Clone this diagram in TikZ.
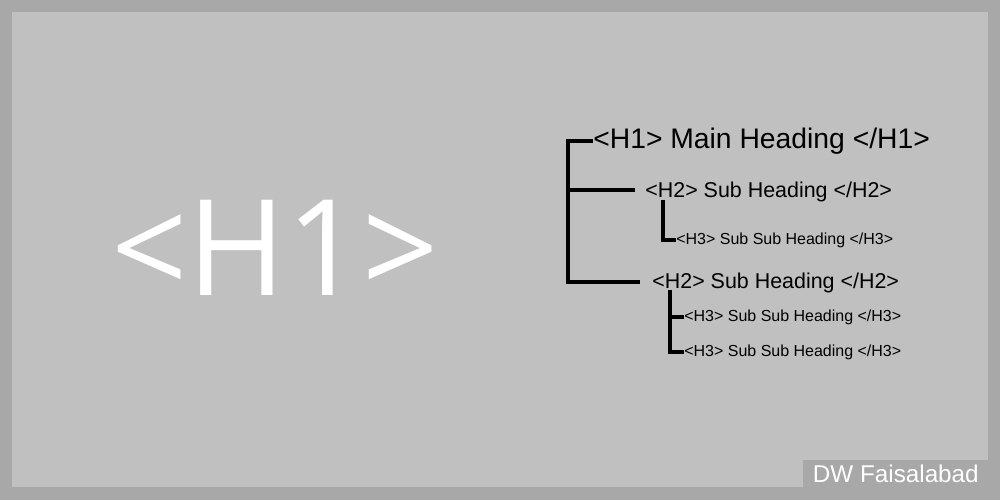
\documentclass[tikz,border=0pt]{standalone}
\usepackage{fontspec}
\setmainfont{Liberation Sans}
\newfontfamily\bigf{Open Sans}
\begin{document}
\begin{tikzpicture}[x=0.02cm,y=-0.02cm,
  ln/.style={line width=2.4pt,line cap=butt},
  t/.style={anchor=west,inner sep=0pt,text=black}]
\useasboundingbox (0,0) rectangle (1000,500);
\fill[fill={rgb,255:red,168;green,168;blue,168}] (0,0) rectangle (1000,500);
\fill[fill={rgb,255:red,192;green,192;blue,192}] (12,12) rectangle (988,487);
\node[fill={rgb,255:red,168;green,168;blue,168},minimum width=185*0.02cm,minimum height=27*0.02cm,anchor=north west,inner sep=0pt,text=white,font=\fontsize{13.8}{15}\selectfont] (lbl) at (803,460) {DW Faisalabad};
\node[text=white,font=\bigf\fontsize{76}{80}\selectfont,inner sep=0pt] (big) at (275,248) {<H1>};
\node[t,font=\fontsize{16.1}{18}\selectfont] (h1) at (593,141) {<H1> Main Heading </H1>};
\node[t,font=\fontsize{12.2}{14}\selectfont] (h2a) at (645,192) {<H2> Sub Heading </H2>};
\node[t,font=\fontsize{9.1}{11}\selectfont] (h3a) at (676,240) {<H3> Sub Sub Heading </H3>};
\node[t,font=\fontsize{12.2}{14}\selectfont] (h2b) at (652,283) {<H2> Sub Heading </H2>};
\node[t,font=\fontsize{9.1}{11}\selectfont] (h3b) at (684,317) {<H3> Sub Sub Heading </H3>};
\node[t,font=\fontsize{9.1}{11}\selectfont] (h3c) at (684,352) {<H3> Sub Sub Heading </H3>};
\draw[ln] (h1.west) -- (568,141) -- (568,282) -- (640,282);
\draw[ln] (568,190) -- (635,190);
\draw[ln] (663,200) -- (663,240) -- (h3a.west);
\draw[ln] (670,290) -- (670,352) -- (h3c.west);
\draw[ln] (670,317) -- (h3b.west);
\end{tikzpicture}
\end{document}
